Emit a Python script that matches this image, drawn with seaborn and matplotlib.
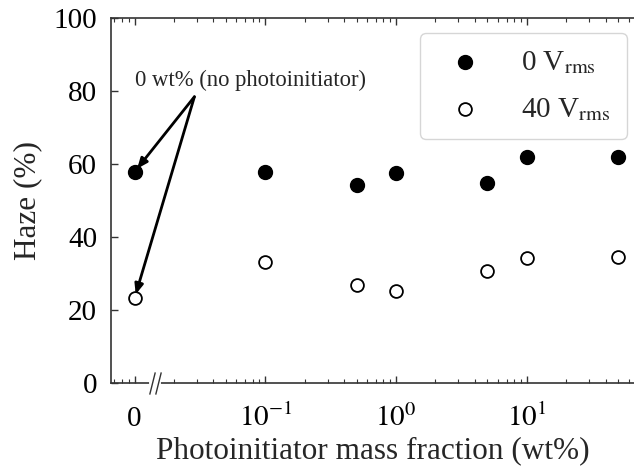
import numpy as np
import pandas as pd
import seaborn as sns
import matplotlib.pyplot as plt

# data
mass_fraction = [0, 0.1, 0.5, 1, 5, 10, 50]
haze_0v = [57.8, 57.7, 54.2, 57.6, 54.9, 62.0, 61.9]
haze_40v = [23.2, 33.2, 26.8, 25.3, 30.8, 34.2, 34.4]
xtick_labels = ['0', '$10^{-1}$', '$10^{0}$', '$10^{1}$']

# "0 wt%" has no place on a log axis, so it is drawn one decade below 10^-1
ZERO_POS = 0.01
xpos = [ZERO_POS if m == 0 else m for m in mass_fraction]

df = pd.DataFrame({'x': xpos, 'haze_0v': haze_0v, 'haze_40v': haze_40v})

sns.set_style('ticks')
plt.rcParams['font.family'] = ['Liberation Serif', 'DejaVu Serif']
plt.rcParams['mathtext.fontset'] = 'stix'

fig = plt.figure(figsize=(6.34, 4.70), dpi=100)
ax = fig.add_axes([0.175, 0.185, 0.825, 0.777])

sns.scatterplot(data=df, x='x', y='haze_0v', ax=ax, color='black', s=100,
                edgecolor='black', linewidth=1, label='0 V$_{\\rm rms}$', zorder=3)
sns.scatterplot(data=df, x='x', y='haze_40v', ax=ax, facecolor='white', s=85,
                edgecolor='black', linewidth=1.3, label='40 V$_{\\rm rms}$', zorder=3)

ax.set_xscale('log')
ax.set_xlim(0.0066, 66)
ax.set_ylim(0, 100)
ax.set_xticks([ZERO_POS, 0.1, 1, 10])
ax.set_xticklabels(xtick_labels)
ax.set_yticks([0, 20, 40, 60, 80, 100])

ax.tick_params(axis='both', which='both', direction='in', labelsize=21, colors='#333333',
               labelcolor='black')
ax.tick_params(axis='x', which='both', top=True)
ax.tick_params(axis='x', which='major', length=5, width=1, pad=31)
ax.tick_params(axis='x', which='minor', length=3, width=0.8)
ax.tick_params(axis='y', which='major', length=5, width=1, pad=10)
for lab in ax.get_xticklabels():
    lab.set_va('baseline')

for side in ['left', 'bottom', 'top']:
    ax.spines[side].set_color('#333333')
    ax.spines[side].set_linewidth(1.2)
ax.spines['right'].set_visible(False)

ax.set_xlabel('Photoinitiator mass fraction (wt%)', fontsize=22.5, labelpad=3)
ax.set_ylabel('Haze (%)', fontsize=22.5, labelpad=8)

# axis break on the bottom spine
xb1, xb2 = 0.0137, 0.0150
ax.plot([xb1 * 0.97, xb2 * 1.03], [0, 0], transform=ax.get_xaxis_transform(),
        color='white', lw=3, clip_on=False, zorder=5)
ax.plot([xb1, xb2], [0, 0], transform=ax.get_xaxis_transform(), marker=[(-0.25, -1), (0.25, 1)],
        markersize=16, linestyle='none', mec='#333333', mew=1, clip_on=False, zorder=6)

# annotation for the no-photoinitiator points
tail = (0.0287, 78.4)
ax.annotate('', xy=(ZERO_POS, haze_0v[0]), xytext=tail,
            arrowprops=dict(arrowstyle='-|>,head_length=0.6,head_width=0.25', lw=2,
                            color='black', shrinkA=0, shrinkB=3))
ax.annotate('', xy=(ZERO_POS, haze_40v[0]), xytext=tail,
            arrowprops=dict(arrowstyle='-|>,head_length=0.6,head_width=0.25', lw=2,
                            color='black', shrinkA=0, shrinkB=3))
ax.text(ZERO_POS, 83, '0 wt% (no photoinitiator)', fontsize=16.3, ha='left', va='center')

leg = ax.legend(loc='upper right', fontsize=21, frameon=True, fancybox=True,
                handlelength=2.0, handletextpad=0.93, borderpad=0.55, labelspacing=0.7,
                borderaxespad=0, bbox_to_anchor=(0.9866, 0.959))
leg.get_frame().set_edgecolor('#cccccc')
leg.get_frame().set_linewidth(1)

fig.savefig('out.png', dpi=100)
